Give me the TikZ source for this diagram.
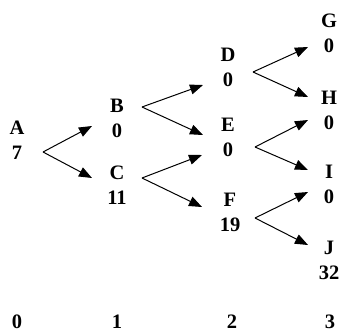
\documentclass[tikz,border=0pt]{standalone}
\usepackage{fontspec}
\setmainfont{Liberation Serif}
\usepackage{tikz}
\usetikzlibrary{arrows.meta}

\begin{document}
\begin{tikzpicture}[x=1pt,y=-1pt,
    lbl/.style={align=center,inner sep=0pt,font=\fontsize{20.5}{25}\selectfont\bfseries},
    arr/.style={-{Triangle[length=13pt,width=10pt]},line width=1pt}]
                      \useasboundingbox (0,0) rectangle (340,335);
                      \node[lbl](A)at(17,140){A\\7};
                      \node[lbl](B)at(117,118){B\\0};
                      \node[lbl](C)at(117,185){C\\11};
                      \node[lbl](D)at(228,67){D\\0};
                      \node[lbl](E)at(228,137){E\\0};
                      \node[lbl](F)at(230,212){F\\19};
                      \node[lbl](G)at(329,33){G\\0};
                      \node[lbl](H)at(329,110){H\\0};
                      \node[lbl](I)at(329,184){I\\0};
                      \node[lbl](J)at(329,260){J\\32};
                      \foreach \n/\x in {0/17, 1/117, 2/232, 3/330} \node[lbl](s\n)at(\x,322){\n};
                      % branch points and arrow ends
                      \coordinate(vA)at(43,152); \coordinate(vB)at(142,107); \coordinate(vC)at(142,178);
                      \coordinate(vD)at(253,72); \coordinate(vE)at(255,147); \coordinate(vF)at(255,218);
                      \coordinate(tB)at(92,126); \coordinate(tC)at(92,178);
                      \coordinate(tD)at(203,85); \coordinate(tE1)at(203,135); \coordinate(tE2)at(202,155); \coordinate(tF)at(202,207);
                      \coordinate(tG)at(308,47); \coordinate(tH1)at(308,97); \coordinate(tH2)at(308,120);
                      \coordinate(tI)at(308,170); \coordinate(tJ1)at(308,192); \coordinate(tJ2)at(308,245);
                      \foreach \a/\b in {vA/tB, vA/tC, vB/tD, vB/tE1, vC/tE2, vC/tF, vD/tG, vD/tH1, vE/tH2, vE/tI, vF/tJ1, vF/tJ2}
                        \draw[arr](\a)--(\b);
                  \end{tikzpicture}
\end{document}
